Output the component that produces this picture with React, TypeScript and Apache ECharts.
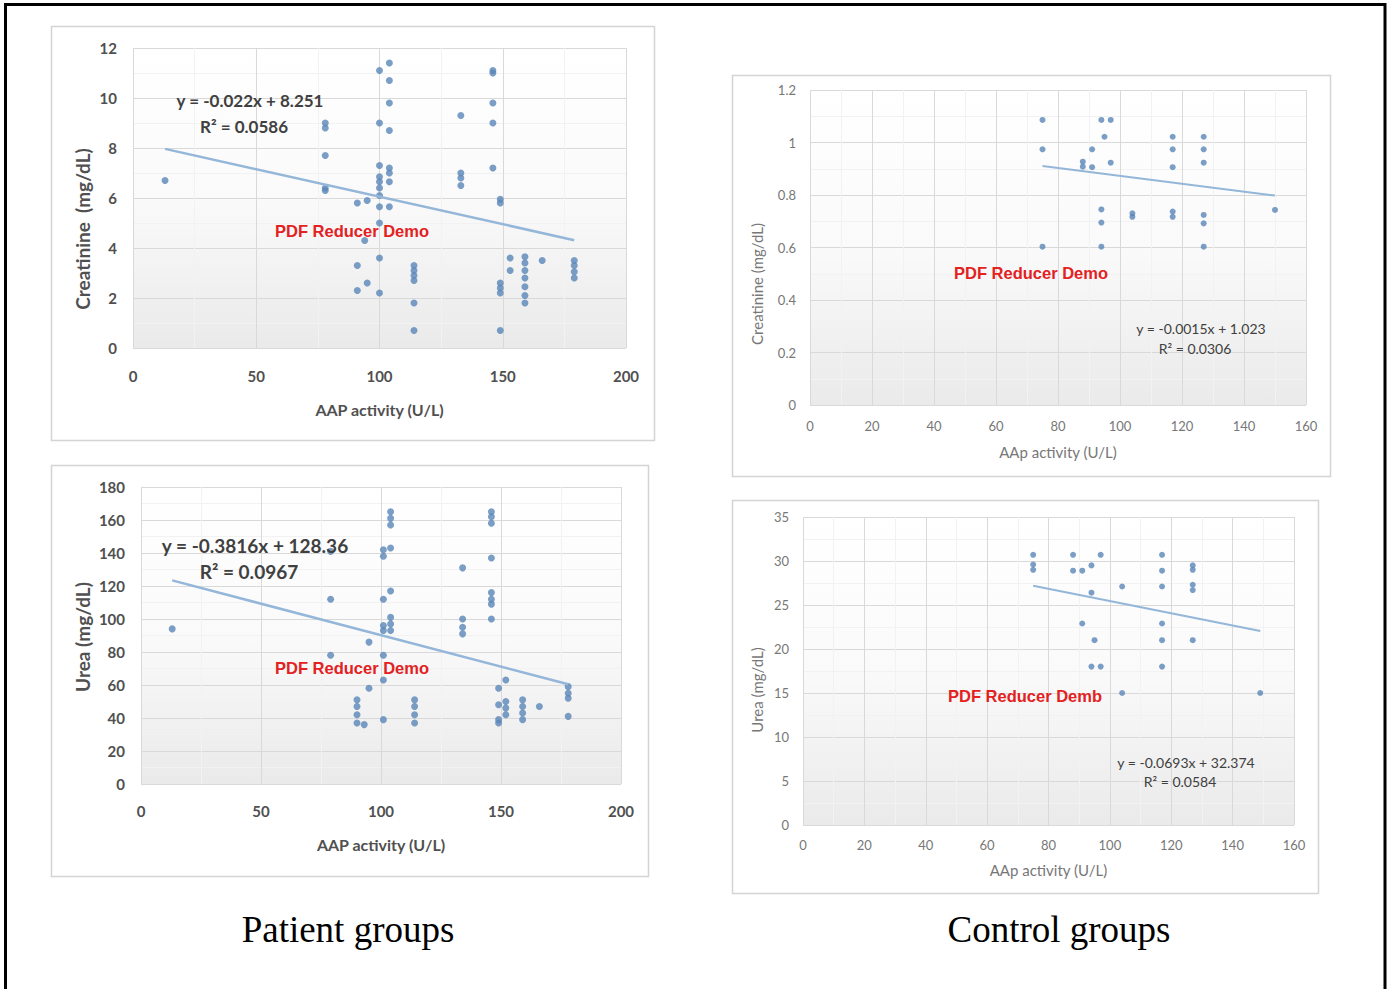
import React, { useEffect, useRef } from "react";
import * as echarts from "echarts";

// ---------- data ----------
const patientCreatinine: number[][] = [
  [13, 6.7], [78, 9.0], [78, 8.8], [78, 7.7], [78, 6.4], [78, 6.3],
  [91, 5.8], [91, 3.3], [91, 2.3], [95, 5.9], [94, 4.3], [95, 2.6],
  [100, 11.1], [104, 11.4], [104, 10.7], [104, 9.8], [100, 9.0], [104, 8.7],
  [100, 7.3], [104, 7.2], [104, 7.0], [100, 6.85], [100, 6.65], [104, 6.65],
  [100, 6.4], [100, 6.1], [100, 5.65], [104, 5.65], [100, 5.0], [100, 3.6], [100, 2.2],
  [114, 3.3], [114, 3.1], [114, 2.9], [114, 2.7], [114, 1.8], [114, 0.7],
  [133, 9.3], [133, 7.0], [133, 6.8], [133, 6.5],
  [146, 11.1], [146, 11.0], [146, 9.8], [146, 9.0], [146, 7.2], [149, 5.95], [149, 5.8],
  [149, 2.6], [149, 2.4], [149, 2.2], [149, 0.7],
  [153, 3.6], [153, 3.1],
  [159, 3.65], [159, 3.4], [159, 3.1], [159, 2.8], [159, 2.45], [159, 2.1], [159, 1.8],
  [166, 3.5],
  [179, 3.5], [179, 3.3], [179, 3.05], [179, 2.8],
];

const patientUrea: number[][] = [
  [13, 94], [79, 141], [79, 112], [79, 78],
  [90, 51], [90, 47], [90, 42], [90, 37], [93, 36], [95, 86], [95, 58],
  [101, 39], [101, 63], [101, 78], [101, 93], [101, 96], [101, 112], [101, 138], [101, 142],
  [104, 165], [104, 161], [104, 157], [104, 143], [104, 117], [104, 101], [104, 97], [104, 93],
  [114, 51], [114, 47], [114, 42], [114, 37],
  [134, 131], [134, 100], [134, 95], [134, 91],
  [146, 165], [146, 162], [146, 158], [146, 137], [146, 116], [146, 112], [146, 109], [146, 100],
  [149, 58], [149, 48], [149, 39], [149, 37], [152, 63], [152, 50], [152, 46], [152, 42],
  [159, 51], [159, 47], [159, 43], [159, 39],
  [166, 47],
  [178, 59], [178, 55], [178, 52], [178, 41],
];

const controlCreatinine: number[][] = [
  [75, 1.086], [75, 0.974], [75, 0.603],
  [88, 0.927], [88, 0.908], [91, 0.974], [91, 0.906],
  [94, 1.086], [95, 1.022], [97, 1.086], [97, 0.923],
  [94, 0.745], [94, 0.695], [94, 0.603],
  [104, 0.73], [104, 0.717],
  [117, 1.022], [117, 0.974], [117, 0.906], [117, 0.737], [117, 0.717],
  [127, 1.022], [127, 0.974], [127, 0.923], [127, 0.724], [127, 0.692], [127, 0.603],
  [150, 0.743],
];

const controlUrea: number[][] = [
  [75, 30.7], [75, 29.6], [75, 29.0],
  [88, 30.7], [88, 28.9], [91, 28.9], [91, 22.9],
  [94, 29.5], [94, 26.4], [94, 18.0], [95, 21.0],
  [97, 30.7], [97, 18.0],
  [104, 27.1], [104, 15.0],
  [117, 30.7], [117, 28.9], [117, 27.1], [117, 22.9], [117, 21.0], [117, 18.0],
  [127, 29.5], [127, 29.0], [127, 27.3], [127, 26.7], [127, 21.0],
  [149, 15.0],
];

// trend line coefficients [slope, intercept]
const patientCreatinineTrend = [-0.022, 8.251];
const patientUreaTrend = [-0.3816, 128.36];
const controlCreatinineTrend = [-0.0015, 1.023];
const controlUreaTrend = [-0.0693, 32.374];

// axis ranges [min, max, interval]
const patientXAxis = [0, 200, 50];
const controlXAxis = [0, 160, 20];
const patientCreatinineYAxis = [0, 12, 2];
const patientUreaYAxis = [0, 180, 20];
const controlCreatinineYAxis = [0, 1.2, 0.2];
const controlUreaYAxis = [0, 35, 5];

const equationTexts = [
  ["y = -0.022x + 8.251", "R\u00b2 = 0.0586"],
  ["y = -0.3816x + 128.36", "R\u00b2 = 0.0967"],
  ["y = -0.0015x + 1.023", "R\u00b2 = 0.0306"],
  ["y = -0.0693x + 32.374", "R\u00b2 = 0.0584"],
];
const watermarkTexts = ["PDF Reducer Demo", "PDF Reducer Demo", "PDF Reducer Demo", "PDF Reducer Demb"];
const yTitles = ["Creatinine  (mg/dL)", "Urea (mg/dL)", "Creatinine (mg/dL)", "Urea (mg/dL)"];
const xTitles = ["AAP activity (U/L)", "AAP activity (U/L)", "AAp activity (U/L)", "AAp activity (U/L)"];
const captions = ["Patient groups", "Control groups"];

const FONT = 'Lato, "Open Sans", sans-serif';
const POINT = "#5a86b8";
const TREND = "#93b6d9";
const GRIDLINE = "#d9d9d9";

function trendData(pts: number[][], coef: number[]) {
  const xs = pts.map((p) => p[0]);
  const x0 = Math.min(...xs);
  const x1 = Math.max(...xs);
  return [
    [x0, coef[0] * x0 + coef[1]],
    [x1, coef[0] * x1 + coef[1]],
  ];
}

export default function App() {
  const ref = useRef<HTMLDivElement>(null);

  useEffect(() => {
    document.body.style.margin = "0";
    const chart = echarts.init(ref.current!, undefined, { renderer: "svg" });

    const grids = [
      { left: 133, top: 48, width: 493, height: 300 },
      { left: 141, top: 487, width: 480, height: 297 },
      { left: 810, top: 90, width: 496, height: 315 },
      { left: 803, top: 517, width: 491, height: 308 },
    ];
    const datasets = [patientCreatinine, patientUrea, controlCreatinine, controlUrea];
    const trends = [patientCreatinineTrend, patientUreaTrend, controlCreatinineTrend, controlUreaTrend];
    const xRanges = [patientXAxis, patientXAxis, controlXAxis, controlXAxis];
    const yRanges = [patientCreatinineYAxis, patientUreaYAxis, controlCreatinineYAxis, controlUreaYAxis];
    const isPatient = [true, true, false, false];
    const tickFont = [15, 15, 13, 13];
    const tickWeight = ["bold", "bold", "normal", "normal"];
    const titleFont = [16, 16, 15, 15];
    const labelColor = ["#505050", "#505050", "#777", "#777"];
    const xLabelMargin = [20, 19, 14, 13];
    const yLabelMargin = [16, 16, 14, 14];
    const xNameGap = [53, 52, 39, 37];
    // y titles: [centerX, centerY, fontSize]
    const yTitlePos = [
      [82, 229, 19],
      [82, 637, 19],
      [757, 284, 15],
      [757, 690, 15],
    ];

    const bg = () =>
      new echarts.graphic.LinearGradient(0, 0, 0, 1, [
        { offset: 0, color: "#ffffff" },
        { offset: 0.5, color: "#fafafa" },
        { offset: 1, color: "#eaeaea" },
      ]);

    const option: any = {
      animation: false,
      backgroundColor: "#ffffff",
      grid: grids.map((g) => ({
        ...g,
        show: true,
        borderWidth: 0,
        backgroundColor: bg(),
        containLabel: false,
      })),
      xAxis: grids.map((_, i) => ({
        type: "value",
        gridIndex: i,
        min: xRanges[i][0],
        max: xRanges[i][1],
        interval: xRanges[i][2],
        name: xTitles[i],
        nameLocation: "middle",
        nameGap: xNameGap[i],
        nameTextStyle: {
          fontFamily: FONT,
          fontSize: titleFont[i],
          fontWeight: tickWeight[i],
          color: labelColor[i],
        },
        axisLine: { show: false },
        axisTick: { show: false },
        axisLabel: {
          fontFamily: FONT,
          fontSize: tickFont[i],
          fontWeight: tickWeight[i],
          color: labelColor[i],
          margin: xLabelMargin[i],
        },
        splitLine: { show: true, lineStyle: { color: GRIDLINE, width: 1 } },
        minorTick: { show: false, splitNumber: 2 },
        minorSplitLine: { show: true, lineStyle: { color: "#f2f2f2", width: 1 } },
      })),
      yAxis: grids.map((_, i) => ({
        type: "value",
        gridIndex: i,
        min: yRanges[i][0],
        max: yRanges[i][1],
        interval: yRanges[i][2],
        axisLine: { show: false },
        axisTick: { show: false },
        axisLabel: {
          fontFamily: FONT,
          fontSize: tickFont[i],
          fontWeight: tickWeight[i],
          color: labelColor[i],
          margin: yLabelMargin[i],
          formatter: (v: number) => String(Math.round(v * 10) / 10),
        },
        splitLine: { show: true, lineStyle: { color: GRIDLINE, width: 1 } },
        minorTick: { show: false, splitNumber: 2 },
        minorSplitLine: { show: true, lineStyle: { color: "#f2f2f2", width: 1 } },
      })),
      series: [
        ...datasets.map((d, i) => ({
          type: "scatter",
          xAxisIndex: i,
          yAxisIndex: i,
          data: d,
          symbol: "circle",
          symbolSize: isPatient[i] ? 7 : 6,
          itemStyle: { color: POINT },
          z: 3,
        })),
        ...datasets.map((d, i) => ({
          type: "line",
          xAxisIndex: i,
          yAxisIndex: i,
          data: trendData(d, trends[i]),
          showSymbol: false,
          symbol: "none",
          lineStyle: { color: TREND, width: isPatient[i] ? 2.5 : 2 },
          z: 4,
        })),
      ],
      graphic: [
        // outer black border (bottom edge beyond the page)
        {
          type: "rect",
          shape: { x: 5.5, y: 4.5, width: 1379.5, height: 1010 },
          style: { fill: "none", stroke: "#000", lineWidth: 3 },
          z: 10,
        },
        // chart frames
        ...[
          [51, 26, 603, 414],
          [51, 465, 597, 411],
          [732, 75, 598, 401],
          [732, 500, 586, 393],
        ].map((r) => ({
          type: "rect",
          shape: { x: r[0] + 0.5, y: r[1] + 0.5, width: r[2], height: r[3] },
          style: { fill: "none", stroke: "#d4d4d4", lineWidth: 1.5 },
          z: 10,
        })),
        // y-axis titles
        ...yTitlePos.map((p, i) => ({
          type: "text",
          x: p[0],
          y: p[1],
          rotation: Math.PI / 2,
          style: {
            text: yTitles[i],
            fontFamily: FONT,
            fontSize: p[2],
            fontWeight: tickWeight[i],
            fill: labelColor[i],
            align: "center",
            verticalAlign: "middle",
          },
          z: 10,
        })),
        // equations
        ...[
          [250, 100, 126, 17],
          [255, 545, 571, 19],
          [1201, 328, 348, 14],
          [1186, 762, 781, 14],
        ].flatMap((p, i) => [
          {
            type: "text",
            x: p[0],
            y: p[1],
            style: {
              text: equationTexts[i][0],
              fontFamily: FONT,
              fontSize: p[3],
              fontWeight: tickWeight[i],
              fill: "#404040",
              align: "center",
              verticalAlign: "middle",
            },
            z: 10,
          },
          {
            type: "text",
            x: p[0] - 6,
            y: p[2],
            style: {
              text: equationTexts[i][1],
              fontFamily: FONT,
              fontSize: p[3],
              fontWeight: tickWeight[i],
              fill: "#404040",
              align: "center",
              verticalAlign: "middle",
            },
            z: 10,
          },
        ]),
        // watermarks
        ...[
          [352, 231],
          [352, 668],
          [1031, 273],
          [1025, 696],
        ].map((p, i) => ({
          type: "text",
          x: p[0],
          y: p[1],
          style: {
            text: watermarkTexts[i],
            fontFamily: '"Liberation Sans", Arial, sans-serif',
            fontWeight: "bold",
            fontSize: 16.5,
            fill: "#e3211f",
            align: "center",
            verticalAlign: "middle",
          },
          z: 10,
        })),
        // captions
        ...[
          [348, 929],
          [1059, 929],
        ].map((p, i) => ({
          type: "text",
          x: p[0],
          y: p[1],
          style: {
            text: captions[i],
            fontFamily: '"Liberation Serif", "Times New Roman", serif',
            fontSize: 37,
            fill: "#000",
            align: "center",
            verticalAlign: "middle",
          },
          z: 10,
        })),
      ],
    };

    chart.setOption(option);
    return () => chart.dispose();
  }, []);

  return (
    <div
      ref={ref}
      style={{ position: "absolute", left: 0, top: 0, width: 1391, height: 989, background: "#fff" }}
    />
  );
}
